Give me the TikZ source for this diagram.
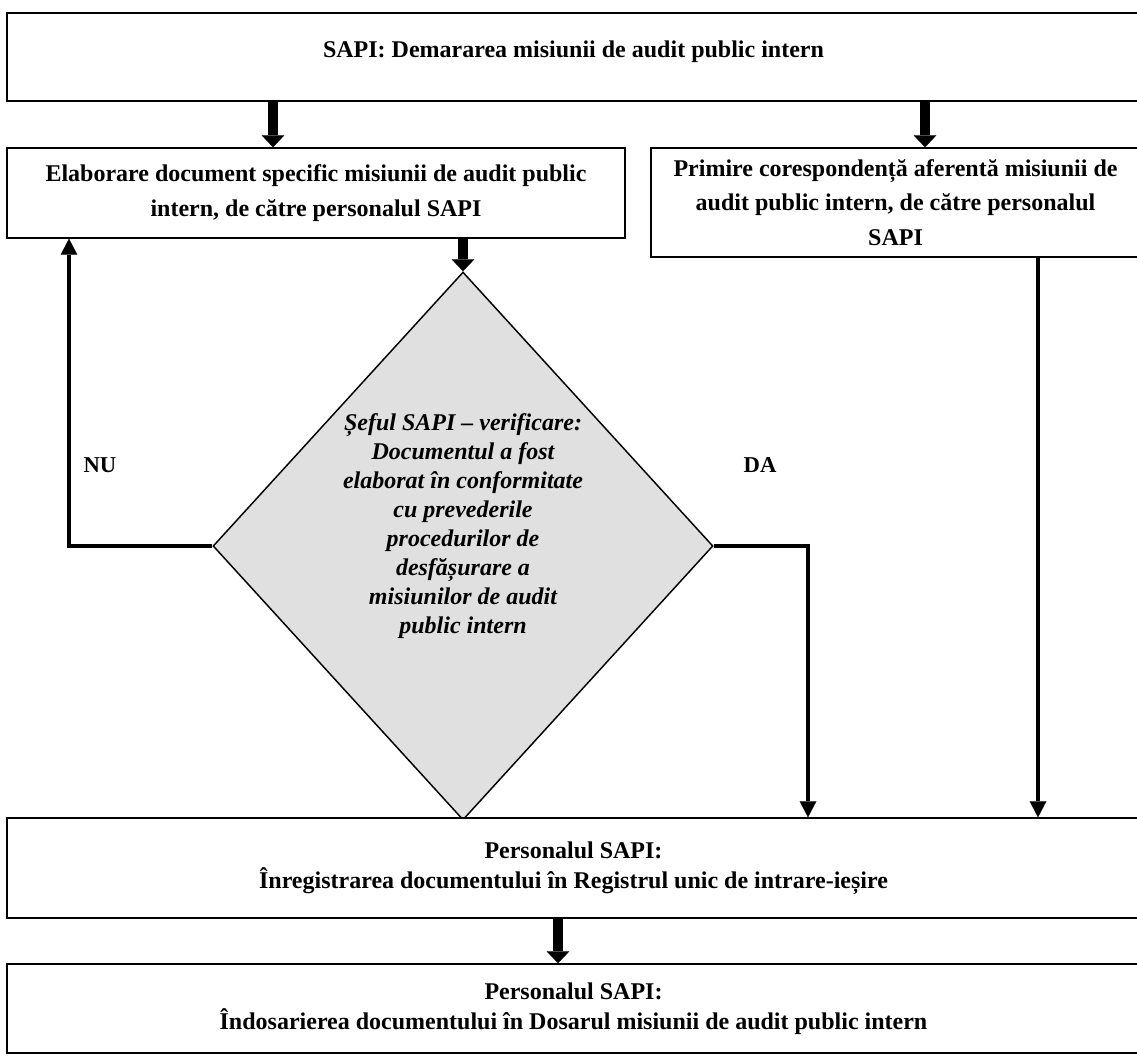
\documentclass[tikz,border=0pt]{standalone}
\usepackage{fontspec}
\setmainfont{Liberation Serif}
\usetikzlibrary{arrows.meta,shapes.geometric}
\begin{document}
\begin{tikzpicture}[x=0.75pt,y=-0.75pt,
  box/.style={draw=black, line width=1.1pt, fill=white, inner sep=0pt, align=center,
    font=\bfseries\fontsize{18pt}{26pt}\selectfont},
  bottombox/.style={box, font=\bfseries\fontsize{18pt}{22.5pt}\selectfont},
  decision/.style={diamond, draw=black, line width=1.1pt, fill=black!12, inner sep=0pt},
  dtext/.style={align=center, font=\bfseries\itshape\fontsize{18pt}{21.75pt}\selectfont},
  lbl/.style={font=\bfseries\fontsize{17pt}{20pt}\selectfont},
  blk/.style={line width=7.5pt, -{Triangle[length=9pt,width=17pt,line width=0.1pt]}},
  conn/.style={line width=2.6pt, -{Triangle[length=12pt,width=12.5pt,line width=0.1pt]}}
]
\useasboundingbox (0,0) rectangle (1137,1057);
\clip (0,0) rectangle (1137,1057);
\fill[white] (0,0) rectangle (1137,1057);

% boxes
\node[box, minimum width=849.75pt, minimum height=66pt, text height=10pt, text depth=10pt] (b1) at (573.5,57)
  {SAPI: Demararea misiunii de audit public intern};
\node[box, minimum width=463.5pt, minimum height=67.5pt] (b2) at (316,193)
  {Elaborare document specific misiunii de audit public\\intern, de către personalul SAPI};
\node[box, minimum width=366.75pt, minimum height=81.75pt] (b3) at (895.5,202.5)
  {Primire corespondență aferentă misiunii de\\audit public intern, de către personalul\\SAPI};
\node[decision, minimum width=375pt, minimum height=411pt] (dia) at (463,546) {};
\node[dtext] (dt) at (463,526)
  {Șeful SAPI – verificare:\\Documentul a fost\\elaborat în conformitate\\cu prevederile\\procedurilor de\\desfășurare a\\misiunilor de audit\\public intern};
\node[bottombox, minimum width=849.75pt, minimum height=75pt] (b4) at (573.5,868)
  {Personalul SAPI:\\Înregistrarea documentului în Registrul unic de intrare-ieșire};
\node[bottombox, minimum width=849.75pt, minimum height=66.75pt] (b5) at (573.5,1008.5)
  {Personalul SAPI:\\Îndosarierea documentului în Dosarul misiunii de audit public intern};

% labels
\node[lbl] (nu) at (100,465) {NU};
\node[lbl] (da) at (760,465) {DA};

% x positions of connectors
\coordinate (xL) at (273,0);
\coordinate (xR) at (925,0);
\coordinate (xNU) at (69,0);
\coordinate (xDA) at (808,0);
\coordinate (xRR) at (1038,0);
\coordinate (xB) at (558,0);

% block arrows
\draw[blk] (b1.south -| xL) -- (b2.north -| xL);
\draw[blk] (b1.south -| xR) -- (b3.north -| xR);
\draw[blk] (b2.south -| dia.north) -- (dia.north);
\draw[blk] (b4.south -| xB) -- (b5.north -| xB);

% connectors
\draw[conn] (dia.west) -| (b2.south -| xNU);
\draw[conn] (dia.east) -| (b4.north -| xDA);
\draw[conn] (b3.south -| xRR) -- (b4.north -| xRR);
\end{tikzpicture}
\end{document}
